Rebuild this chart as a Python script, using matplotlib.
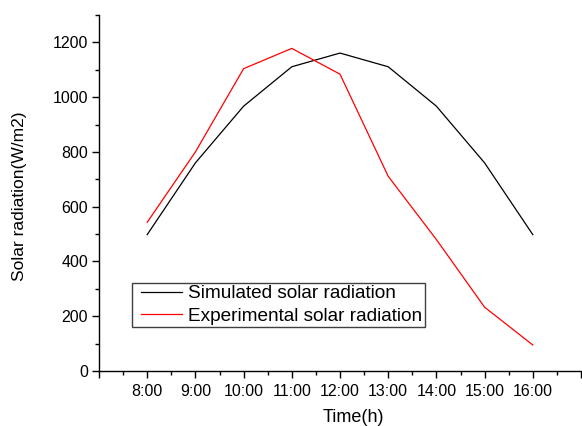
import matplotlib
matplotlib.use("Agg")
import matplotlib.pyplot as plt
from matplotlib.lines import Line2D
from matplotlib.legend_handler import HandlerLine2D
from matplotlib.ticker import MultipleLocator

plt.rcParams['font.family'] = ['Liberation Sans', 'DejaVu Sans']

hours = [8, 9, 10, 11, 12, 13, 14, 15, 16]
hour_labels = ['8:00', '9:00', '10:00', '11:00', '12:00', '13:00', '14:00', '15:00', '16:00']
simulated = [498, 760, 967, 1111, 1161, 1111, 967, 760, 498]
experimental = [543, 800, 1104, 1178, 1084, 711, 480, 233, 95]

fig = plt.figure(figsize=(5.82, 4.26), dpi=100)
ax = fig.add_axes([99 / 582, 1 - 371 / 426, (581 - 99) / 582, (371 - 15) / 426])

ax.plot(hours, simulated, color='black', lw=0.9, label='Simulated solar radiation')
ax.plot(hours, experimental, color='red', lw=0.9, label='Experimental solar radiation')

ax.set_xlim(7, 17)
ax.set_ylim(0, 1300)
ax.set_xticks([7] + hours + [17])
ax.set_xticklabels([''] + hour_labels + [''])
ax.xaxis.set_minor_locator(MultipleLocator(0.5))
ax.set_yticks(range(0, 1201, 200))
ax.yaxis.set_minor_locator(MultipleLocator(100))

for side in ('top', 'right'):
    ax.spines[side].set_visible(False)
for side in ('left', 'bottom'):
    ax.spines[side].set_linewidth(1.0)
ax.tick_params(which='major', direction='out', length=5, width=1.0, labelsize=11.5, pad=4)
ax.tick_params(axis='y', which='major', pad=3)
ax.tick_params(which='minor', direction='out', length=3, width=1.0)

ax.set_xlabel('Time(h)', fontsize=13)
ax.xaxis.set_label_coords(0.527, -0.108)
ax.set_ylabel('Solar radiation(W/m2)', fontsize=12.5)
ax.yaxis.set_label_coords(-0.15, 0.49)

# xpad pushes the legend lines in from the frame edge (Origin-style look)
leg = ax.legend(loc='lower left', bbox_to_anchor=(33 / 482, 44 / 356), fontsize=13.7,
                frameon=True, fancybox=False, framealpha=1, edgecolor='#404040',
                handlelength=2.49, handletextpad=0.34, borderpad=0.12, labelspacing=0.27,
                borderaxespad=0, handler_map={Line2D: HandlerLine2D(xpad=0.35)})
leg.get_frame().set_linewidth(1.0)

fig.savefig('out.png', dpi=100)
